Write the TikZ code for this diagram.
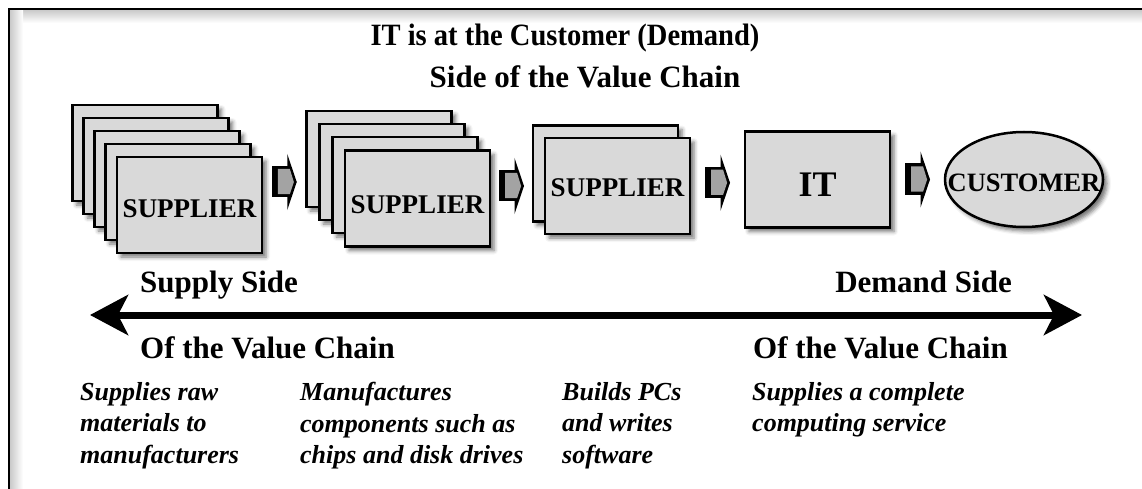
\documentclass[tikz,border=0pt]{standalone}
\usepackage{fontspec}
\setmainfont{Liberation Serif}
\usetikzlibrary{arrows.meta,shapes.geometric,shadows.blur,calc}
\definecolor{boxgray}{HTML}{D9D9D9}
\definecolor{arrgray}{HTML}{A3A3A3}
\tikzset{
  softshadow/.style={blur shadow={shadow xshift=4pt, shadow yshift=-4pt, shadow blur radius=4pt, shadow opacity=55}},
  card/.style={draw=black, line width=2.5pt, fill=boxgray, minimum width=145pt, minimum height=96pt,
    inner sep=0pt, softshadow},
  custshape/.style={ellipse, draw=black, line width=2.5pt, fill=boxgray, minimum width=158pt, minimum height=95pt,
    inner sep=0pt, softshadow},
  boxlabel/.style={font=\bfseries\fontsize{27}{30}\selectfont, inner sep=0pt},
  bigtext/.style={font=\bfseries\fontsize{31}{36}\selectfont, inner sep=0pt},
  desc/.style={font=\bfseries\itshape\fontsize{26}{31.5}\selectfont, inner sep=0pt, align=left, anchor=north west},
  bigarrow/.style={line width=7pt, {Stealth[length=38pt, width=40pt, inset=10pt]}-{Stealth[length=38pt, width=40pt, inset=10pt]}},
  blockarrow/.pic={
    \fill[black] (3,-28) -- (12.5,0) -- (3,28) -- cycle;
    \fill[black] (-12.5,-16) rectangle (6,15);
    \fill[arrgray] (-6.5,-13) -- (5.6,-13) -- (9.6,0) -- (5.6,12) -- (-6.5,12) -- cycle;
  }
}
\begin{document}
\begin{tikzpicture}[x=1pt, y=-1pt]
\useasboundingbox (0,0) rectangle (1142,489);
% frame with inner shadow
\shade[top color=gray!45, bottom color=white] (9,9) rectangle (1142,23);
\shade[left color=gray!45, right color=white] (9,9) rectangle (23,489);
\draw[line width=2.5pt, line cap=rect] (9,489) -- (9,9) -- (1142,9);

% title
\node[bigtext, anchor=base] (title1) at (565,46) {\scalebox{0.92}[1]{IT is at the Customer (Demand)}};
\node[bigtext, anchor=base] (title2) at (585,88) {Side of the Value Chain};

% stack 1
\node[card] (s1a) at (145,153) {};
\node[card] (s1b) at (156,166) {};
\node[card] (s1c) at (167,179) {};
\node[card] (s1d) at (178,192) {};
\node[card] (s1e) at (189.5,205) {};
\node[boxlabel] (l1) at ([yshift=-4pt]s1e.center) {SUPPLIER};
% stack 2
\node[card] (s2a) at (379,159) {};
\node[card] (s2b) at (392,172) {};
\node[card] (s2c) at (405,185) {};
\node[card] (s2d) at (417.5,198.5) {};
\node[boxlabel] (l2) at ([yshift=-6.5pt]s2d.center) {SUPPLIER};
% stack 3
\node[card] (s3a) at (605.5,173.5) {};
\node[card] (s3b) at (617.5,186) {};
\node[boxlabel] (l3) at ([yshift=-2pt]s3b.center) {SUPPLIER};
% IT
\node[card] (it) at (817.5,179.5) {};
\node[boxlabel, font=\bfseries\fontsize{36}{40}\selectfont] (l4) at ([yshift=-5.5pt]it.center) {IT};
% customer
\node[custshape] (cust) at (1024,179.5) {};
\node[boxlabel, font=\bfseries\fontsize{26.5}{30}\selectfont] (l5) at ([yshift=-3.5pt]cust.center) {CUSTOMER};

% block arrows
\path ($(s1e.east)!0.5!(s2a.west)$ |- 0,185) pic {blockarrow};
\path ($(s2d.east)!0.5!(s3a.west)$ |- 0,185) pic {blockarrow};
\path ($(s3b.east)!0.5!(it.west)$ |- 0,185) pic {blockarrow};
\path ($(it.east)!0.5!(cust.west)$ |- 0,185) pic {blockarrow};

% big double arrow
\coordinate (L) at (90,315);
\coordinate (R) at (1082,315);
\draw[bigarrow] (L) -- (R);

\node[bigtext, anchor=base west] (ss) at (140,292) {Supply Side};
\node[bigtext, anchor=base east] (ds) at (1012,292) {Demand Side};
\node[bigtext, anchor=base west] (vc1) at (140,358) {Of the Value Chain};
\node[bigtext, anchor=base east] (vc2) at (1008,358) {Of the Value Chain};

% descriptions
\node[desc] (d1) at (80,382) {Supplies raw\\materials to\\manufacturers};
\node[desc] (d2) at (300,382) {Manufactures\\components such as\\chips and disk drives};
\node[desc] (d3) at (562,382) {Builds PCs\\and writes\\software};
\node[desc] (d4) at (752,382) {Supplies a complete\\computing service};
\end{tikzpicture}
\end{document}
